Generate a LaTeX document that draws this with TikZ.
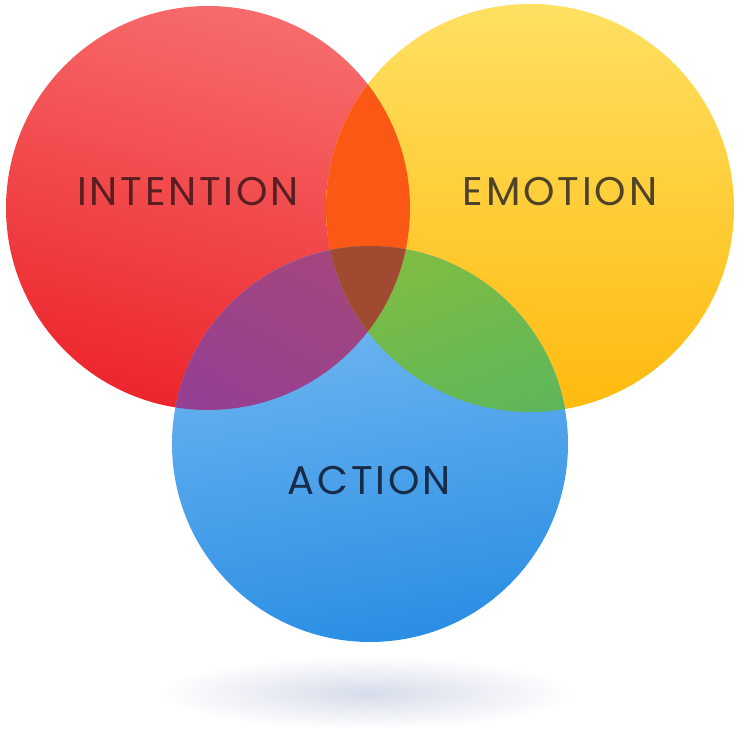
\documentclass[tikz,border=0pt]{standalone}
\usepackage{fontspec}
\usepackage{xcolor}
\usepackage{tikz}
\usetikzlibrary{positioning}
\newfontfamily\vennfont[LetterSpace=7]{Poppins}
\definecolor{redTop}{RGB}{247,108,108}
\definecolor{redBot}{RGB}{236,38,44}
\definecolor{yelTop}{RGB}{255,224,98}
\definecolor{yelBot}{RGB}{255,186,14}
\definecolor{bluTop}{RGB}{122,188,242}
\definecolor{bluBot}{RGB}{42,142,228}
\definecolor{ryMix}{RGB}{250,88,20}
\definecolor{rbTop}{RGB}{168,72,120}
\definecolor{rbBot}{RGB}{138,58,162}
\definecolor{ybTop}{RGB}{132,190,62}
\definecolor{ybBot}{RGB}{66,176,112}
\definecolor{allMix}{RGB}{160,74,50}
\definecolor{shadowc}{RGB}{214,220,234}
\definecolor{txtR}{RGB}{88,30,32}
\definecolor{txtY}{RGB}{78,66,40}
\definecolor{txtB}{RGB}{24,44,74}

\begin{document}
\begin{tikzpicture}[x=1pt, y=1pt,
  lbl/.style={font=\vennfont\fontsize{40}{40}\selectfont, inner sep=0pt},
]
  \useasboundingbox[fill=white] (0,0) rectangle (737,737);

  \coordinate (ci) at (208,529);
  \coordinate (ce) at (530,529);
  \coordinate (ca) at (370,293);
  \coordinate (cs) at (367,44);

  % soft shadow under the action circle
  \shade[inner color=shadowc, outer color=white] (cs) ellipse (210 and 36);

  % the three sets
  \shade[top color=redTop, bottom color=redBot, shading angle=-15] (ci) circle (202);
  \shade[top color=yelTop, bottom color=yelBot] (ce) circle (204);
  \shade[top color=bluTop, bottom color=bluBot, shading angle=10] (ca) circle (198);

  % pairwise overlaps
  \begin{scope}
    \clip (ci) circle (202);
    \fill[ryMix] (ce) circle (204);
    \shade[top color=rbTop, bottom color=rbBot, shading angle=-30] (ca) circle (198);
  \end{scope}
  \begin{scope}
    \clip (ce) circle (204);
    \shade[top color=ybTop, bottom color=ybBot, shading angle=20] (ca) circle (198);
  \end{scope}
  \begin{scope}
    \clip (ci) circle (202);
    \clip (ce) circle (204);
    \fill[allMix] (ca) circle (198);
  \end{scope}

  \node[lbl, text=txtR] (intention) at (188,545) {INTENTION};
  \node[lbl, text=txtY] (emotion) at (560,545) {EMOTION};
  \node[lbl, text=txtB] (action) at (369,256) {ACTION};
\end{tikzpicture}
\end{document}
